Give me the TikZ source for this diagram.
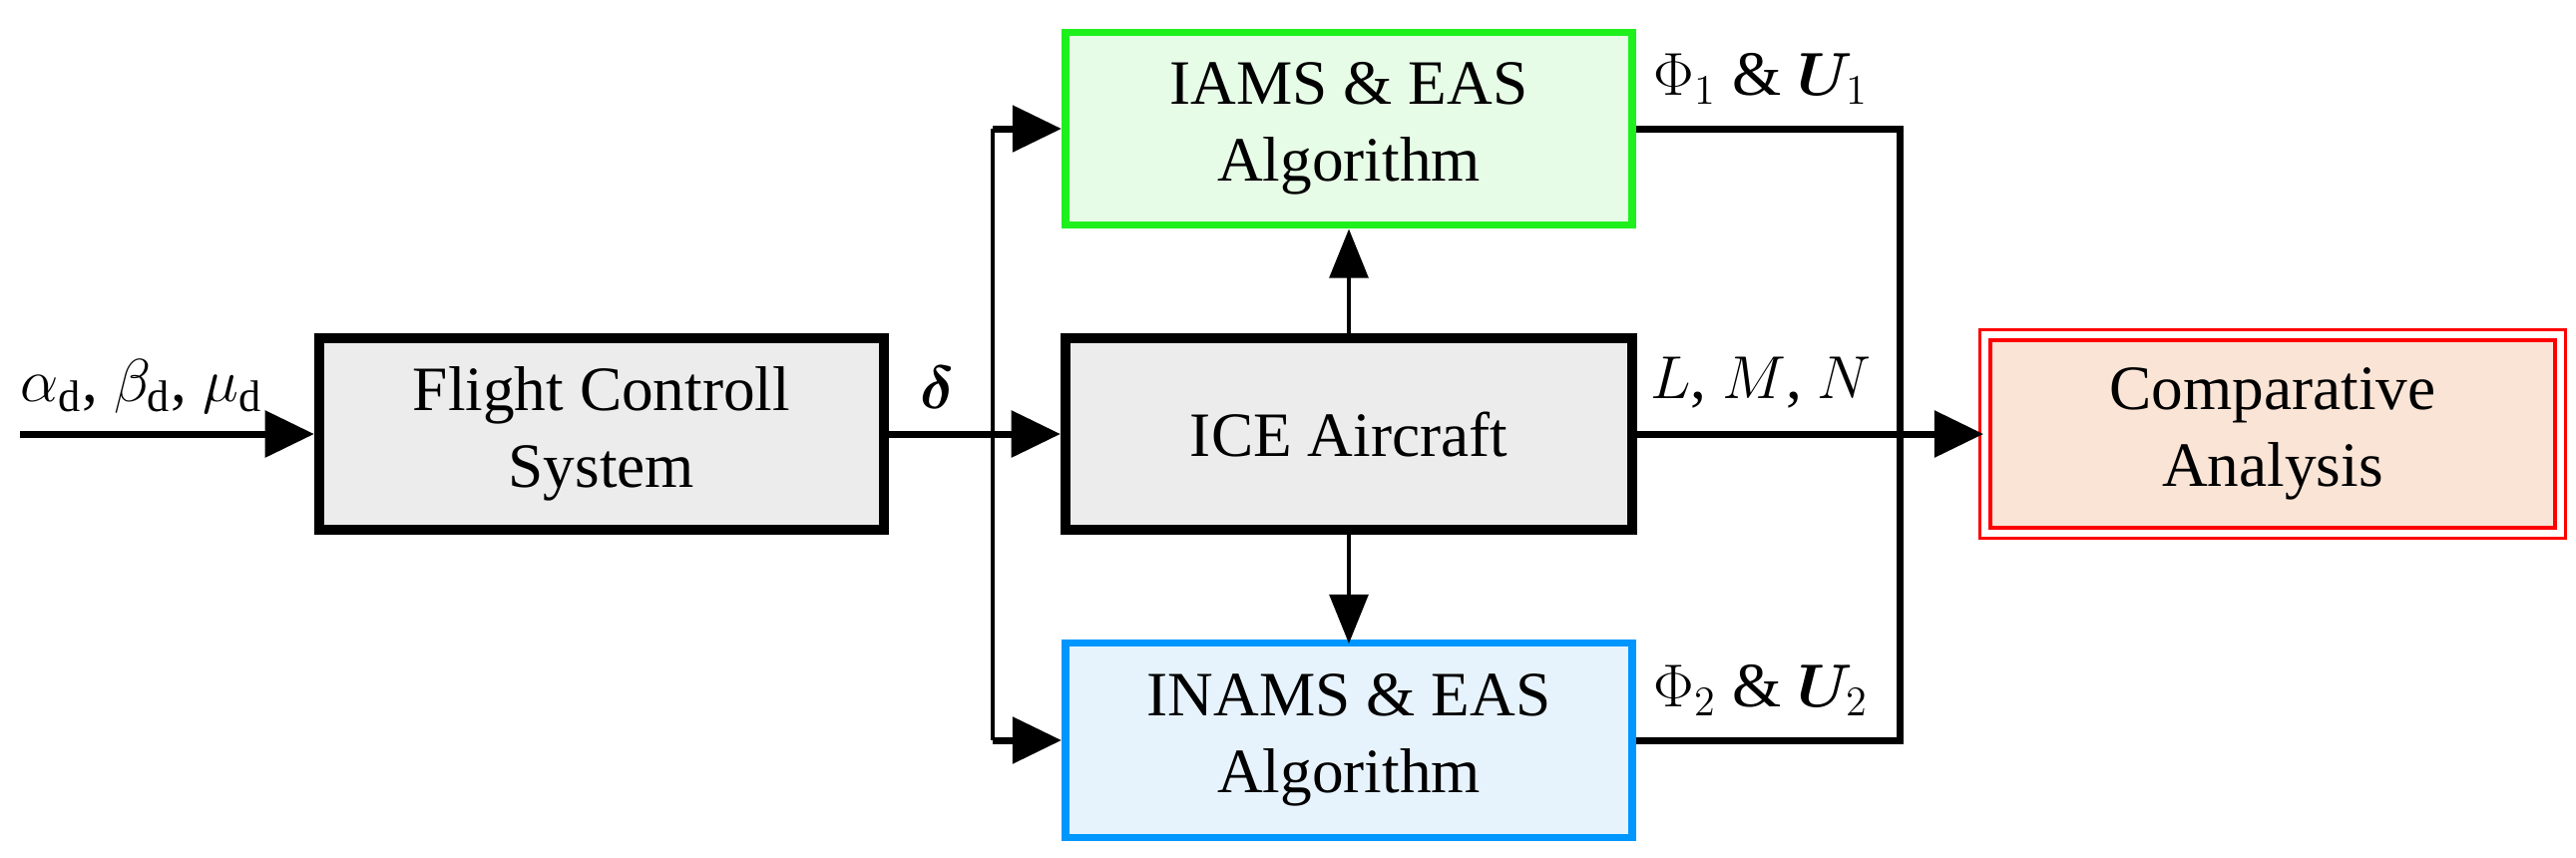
\documentclass[tikz,border=0pt]{standalone}
\usepackage{fontspec}
\usepackage{bm}
\setmainfont{Liberation Serif}
\usetikzlibrary{arrows.meta}
\begin{document}
\begin{tikzpicture}[x=0.01cm,y=-0.01cm,
  box/.style={draw,line width=2.8pt,fill=gray!15,align=center,font=\fontsize{18}{22}\selectfont,inner sep=0pt},
  thickarr/.style={line width=2pt,-{Triangle[length=14pt,width=13pt]}},
  thinarr/.style={line width=1.2pt,-{Triangle[length=14pt,width=11pt]}},
  lbl/.style={font=\fontsize{18}{22}\selectfont,inner sep=0pt}]
\useasboundingbox (0,0) rectangle (2582,859);
\node[box,minimum width=566\pgflinewidth*0+5.66cm,minimum height=1.92cm] (fcs) at (603,435) {Flight Controll\\System};
\node[box,minimum width=5.68cm,minimum height=1.92cm] (ice) at (1352,435) {ICE Aircraft};
\node[box,draw={rgb,255:red,30;green,240;blue,30},fill={rgb,255:red,230;green,252;blue,230},line width=2.2pt,minimum width=5.68cm,minimum height=1.93cm] (iams) at (1352,129) {IAMS \& EAS\\Algorithm};
\node[box,draw={rgb,255:red,0;green,150;blue,255},fill={rgb,255:red,230;green,243;blue,253},line width=2.2pt,minimum width=5.68cm,minimum height=1.95cm] (inams) at (1352,742) {INAMS \& EAS\\Algorithm};
\node[box,draw=red,fill={rgb,255:red,250;green,228;blue,214},line width=1pt,double=white,double distance=2pt,minimum width=5.76cm,minimum height=1.98cm] (comp) at (2278,435) {Comparative\\Analysis};
\coordinate (in) at (20,435);
\coordinate (br) at (995,435);
\coordinate (bus) at (1904,435);
\draw[thickarr] (in) -- (fcs.west);
\draw[thickarr] (fcs.east) -- (ice.west);
\draw[line width=1.2pt] (br |- iams.west) -- (br |- inams.west);
\draw[thickarr] (br |- iams.west) -- (iams.west);
\draw[thickarr] (br |- inams.west) -- (inams.west);
\draw[thinarr] (ice.north) -- (iams.south);
\draw[thinarr] (ice.south) -- (inams.south |- 0,645);
\draw[line width=2pt] (iams.east) -- (bus |- iams.east) -- (bus |- inams.east) -- (inams.east);
\draw[thickarr] (ice.east) -- (comp.west);
\node[lbl,anchor=south west] (l1) at (20,415) {$\alpha_{\mathrm{d}}$, $\beta_{\mathrm{d}}$, $\mu_{\mathrm{d}}$};
\node[lbl,anchor=south] (l2) at (940,410) {$\bm{\delta}$};
\node[lbl,anchor=south] (l3) at (1765,410) {$L$, $M$, $N$};
\node[lbl,anchor=south] (l4) at (1765,105) {$\Phi_1$ \& $\bm{U}_1$};
\node[lbl,anchor=south] (l5) at (1765,718) {$\Phi_2$ \& $\bm{U}_2$};
\end{tikzpicture}
\end{document}
